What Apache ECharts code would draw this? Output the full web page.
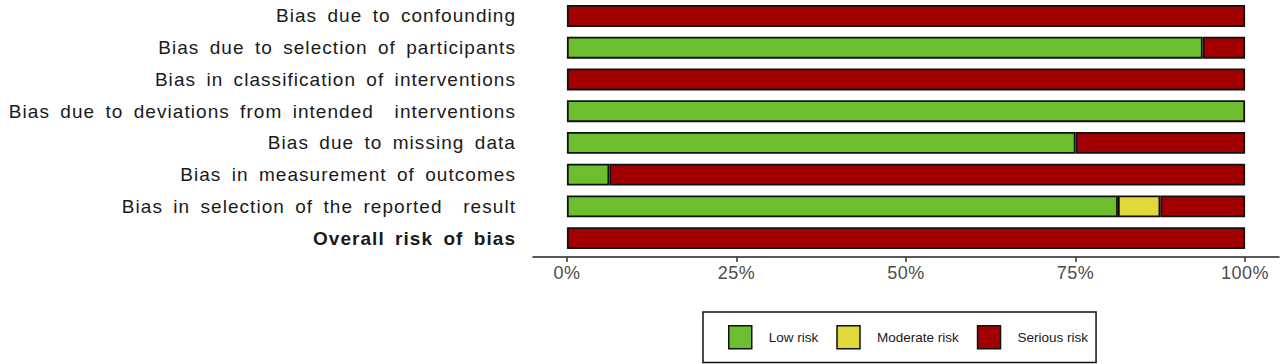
<!DOCTYPE html>
<html>
<head>
<meta charset="utf-8">
<script src="https://cdn.jsdelivr.net/npm/echarts@6/dist/echarts.min.js"></script>
<style>
html,body{margin:0;padding:0;background:#fff;}
#chart{width:1280px;height:364px;}
#chart text.wide{letter-spacing:1.05px;word-spacing:4px;}
#chart text.tick{letter-spacing:0.5px;}
</style>
</head>
<body>
<div id="chart"></div>
<script>
const domains = [
  'Bias due to confounding',
  'Bias due to selection of participants',
  'Bias in classification of interventions',
  'Bias due to deviations from intended  interventions',
  'Bias due to missing data',
  'Bias in measurement of outcomes',
  'Bias in selection of the reported  result',
  'Overall risk of bias'
];
const lowRisk      = [0, 93.75, 0, 100, 75, 6.25, 81.25, 0];
const moderateRisk = [0, 0, 0, 0, 0, 0, 6.25, 0];
const seriousRisk  = [100, 6.25, 100, 0, 25, 93.75, 12.5, 100];
const tickValues = [0, 25, 50, 75, 100];
const tickLabels = ['0%', '25%', '50%', '75%', '100%'];
const seriesNames = ['Low risk', 'Moderate risk', 'Serious risk'];
const seriesColors = ['#6cbe2f', '#e0d93a', '#a20000'];

const chart = echarts.init(document.getElementById('chart'), null, {renderer: 'svg'});
const lastIdx = domains.length - 1;
const catData = domains.map((d, i) => i === lastIdx
  ? {value: d, textStyle: {fontWeight: 'bold'}}
  : d);
const series = [lowRisk, moderateRisk, seriousRisk].map((arr, k) => ({
  name: seriesNames[k],
  type: 'bar',
  stack: 'total',
  barWidth: 22,
  data: arr.map(v => v === 0 ? '-' : v),
  itemStyle: {color: seriesColors[k], borderColor: '#111', borderWidth: 1.8},
  emphasis: {disabled: true}
}));

chart.setOption({
  animation: false,
  grid: {left: 533, right: 1, top: -3, height: 257, containLabel: false},
  xAxis: {
    type: 'value', min: -5, max: 105,
    offset: 3,
    splitLine: {show: false},
    axisLine: {show: true, lineStyle: {color: '#222', width: 1.5}},
    axisTick: {show: true, length: 5, customValues: tickValues, lineStyle: {color: '#333', width: 1.5}},
    axisLabel: {customValues: tickValues, formatter: v => tickLabels[tickValues.indexOf(v)], color: '#4d4d4d', fontSize: 18,
      fontFamily: 'Liberation Sans', margin: 7}
  },
  yAxis: {
    type: 'category', inverse: true, data: catData,
    axisLine: {show: false}, axisTick: {show: false},
    axisLabel: {color: '#1a1a1a', fontSize: 19, fontFamily: 'Liberation Sans', margin: 17}
  },
  legend: {
    data: seriesNames,
    icon: 'rect',
    left: 703, top: 312,
    width: 387,
    orient: 'horizontal',
    itemWidth: 23, itemHeight: 23, itemGap: 18,
    padding: [13, 8, 13, 25],
    borderColor: '#111', borderWidth: 1.5,
    textStyle: {fontSize: 13.5, color: '#1a1a1a', fontFamily: 'Liberation Sans', padding: [0, 0, 0, 12]},
    itemStyle: {borderColor: '#111', borderWidth: 1.5},
    selectedMode: false
  },
  series: series
});

function widen() {
  document.querySelectorAll('#chart text').forEach(t => {
    const s = t.textContent;
    if (domains.indexOf(s) >= 0) t.classList.add('wide');
    if (tickLabels.indexOf(s) >= 0) t.classList.add('tick');
  });
}
widen();
chart.on('finished', widen);
</script>
</body>
</html>
